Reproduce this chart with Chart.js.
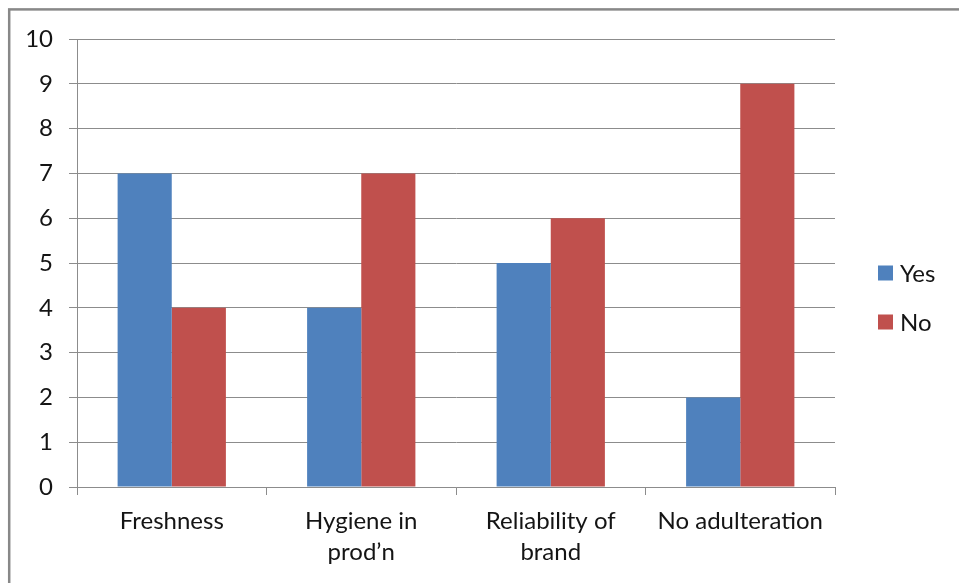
<!DOCTYPE html>
<html>
<head>
<meta charset="utf-8">
<script src="https://cdn.jsdelivr.net/npm/chart.js@4/dist/chart.umd.min.js"></script>
<style>
  html, body { margin: 0; padding: 0; background: #fff; overflow: hidden; }
  #wrap { position: relative; width: 959px; height: 583px; }
</style>
</head>
<body>
<div id="wrap"><canvas id="chart" width="959" height="583"></canvas></div>
<script>
// Survey categories and answer counts
const categories = ["Freshness", ["Hygiene in", "prod\u2019n"], ["Reliability of", "brand"], "No adulteration"];
const yesValues = [7, 4, 5, 2];
const noValues = [4, 7, 6, 9];
const seriesNames = ["Yes", "No"];
const yTicks = [0, 1, 2, 3, 4, 5, 6, 7, 8, 9, 10];

const FONT = "Lato, 'Open Sans', sans-serif";
const GRID = "#8c8c8c";
const TEXT = "#141414";

// Outer frame and the side legend
const decor = {
  id: "decor",
  beforeDraw(chart) {
    const ctx = chart.ctx;
    ctx.save();
    ctx.fillStyle = "#fff";
    ctx.fillRect(0, 0, chart.width, chart.height);
    ctx.strokeStyle = "#888888";
    ctx.lineWidth = 2.5;
    ctx.strokeRect(9.2, 9.4, 2000, 2000);
    ctx.restore();
  },
  afterDraw(chart) {
    const ctx = chart.ctx;
    ctx.save();
    ctx.font = "24px " + FONT;
    ctx.textBaseline = "middle";
    ctx.textAlign = "left";
    const rows = [273, 322];
    chart.data.datasets.forEach((ds, i) => {
      const y = rows[i];
      ctx.fillStyle = ds.backgroundColor;
      ctx.fillRect(878, y - 7.5, 15, 15);
      ctx.fillStyle = TEXT;
      ctx.fillText(ds.label, 900, y + 1);
    });
    ctx.restore();
  }
};

new Chart(document.getElementById("chart"), {
  type: "bar",
  data: {
    labels: categories,
    datasets: [
      { label: seriesNames[0], data: yesValues, backgroundColor: "#4F81BD" },
      { label: seriesNames[1], data: noValues, backgroundColor: "#C0504D" }
    ]
  },
  options: {
    responsive: false,
    animation: false,
    layout: { padding: { left: 0, top: 39, right: 124, bottom: 0 } },
    datasets: { bar: { categoryPercentage: 2 / 3.5, barPercentage: 1.0, borderWidth: 0 } },
    plugins: { legend: { display: false }, tooltip: { enabled: false } },
    scales: {
      x: {
        grid: { offset: true, drawOnChartArea: false, drawTicks: true, tickLength: 8, color: GRID, lineWidth: 1 },
        border: { color: GRID, width: 1 },
        ticks: { color: TEXT, font: { family: FONT, size: 24, lineHeight: "31px" }, padding: 11, maxRotation: 0, autoSkip: false },
        afterFit(scale) { scale.height = 96; }
      },
      y: {
        min: 0,
        max: 10,
        afterBuildTicks(scale) { scale.ticks = yTicks.map(v => ({ value: v })); },
        grid: { color: GRID, lineWidth: 1, drawTicks: true, tickLength: 8 },
        border: { color: GRID, width: 1 },
        ticks: { color: TEXT, font: { family: FONT, size: 24 }, padding: 16 },
        afterFit(scale) { scale.width = 77; }
      }
    }
  },
  plugins: [decor]
});
</script>
</body>
</html>
